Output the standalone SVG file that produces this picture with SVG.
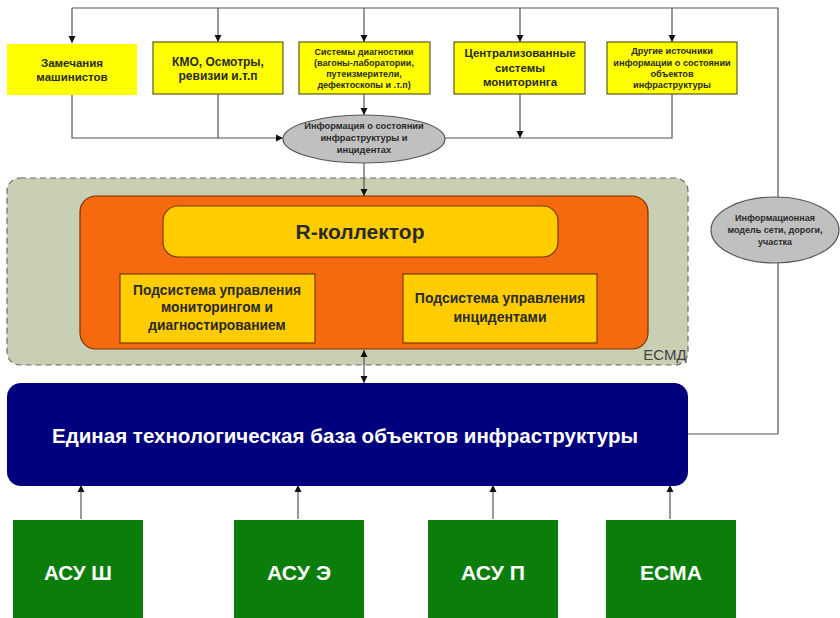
<svg xmlns="http://www.w3.org/2000/svg" width="840" height="618" viewBox="0 0 840 618">
<style>
.t{font-family:"Liberation Sans",Arial,sans-serif;font-weight:bold;text-anchor:middle;fill:#2a2a2a}
.y{fill:#ffff00;stroke:#5a5a2a;stroke-width:1.2}
.ln{fill:none;stroke:#555;stroke-width:1.2}
.sub{fill:#ffcc00;stroke:#7a3a00;stroke-width:1.2}
.g{fill:#0b7d0b}
.w{fill:#fff;font-family:"Liberation Sans",Arial,sans-serif;font-weight:bold;text-anchor:middle}
.el{fill:#c0c0c0;stroke:#555;stroke-width:1.2}
</style>
<defs>
<marker id="ah" viewBox="0 0 10 10" refX="10" refY="5" markerWidth="7" markerHeight="9" markerUnits="userSpaceOnUse" orient="auto-start-reverse">
<path d="M0,0 L10,5 L0,10 z" fill="#111"/>
</marker>
</defs>
<rect width="840" height="618" fill="#fff"/>

<g id="esmd">
<rect x="7" y="178" width="681" height="187" rx="13" fill="#c9cfb2" stroke="#6a6a6a" stroke-width="1.2" stroke-dasharray="6,4"/>
<text x="665" y="360" font-family="Liberation Sans,Arial,sans-serif" font-size="15" fill="#444" text-anchor="middle">ЕСМД</text>
</g>
<g id="core">
<rect x="80" y="196" width="568" height="153" rx="16" fill="#f5690f" stroke="#7a3000" stroke-width="1.2"/>
</g>
<g id="rcollector">
<rect x="163" y="206" width="395" height="51" rx="15" class="sub"/>
<text x="360" y="239" class="t" font-size="21" fill="#222">R-коллектор</text>
</g>
<g id="sub1">
<rect x="120" y="274" width="195" height="69" class="sub"/>
<text class="t" font-size="13.8"><tspan x="217" y="295">Подсистема управления</tspan><tspan x="217" y="312">мониторингом и</tspan><tspan x="217" y="330">диагностированием</tspan></text>
</g>
<g id="sub2">
<rect x="403" y="274" width="194" height="69" class="sub"/>
<text class="t" font-size="14"><tspan x="500" y="303">Подсистема управления</tspan><tspan x="500" y="322">инцидентами</tspan></text>
</g>

<g id="connectors">
<path class="ln" d="M778,434 L778,8 L72,8"/>
<path class="ln" d="M72,8 L72,43" marker-end="url(#ah)"/>
<path class="ln" d="M218,8 L218,42" marker-end="url(#ah)"/>
<path class="ln" d="M364,8 L364,42" marker-end="url(#ah)"/>
<path class="ln" d="M520,8 L520,42" marker-end="url(#ah)"/>
<path class="ln" d="M672,8 L672,42" marker-end="url(#ah)"/>
<path class="ln" d="M72,95 L72,138 L283,138" marker-end="url(#ah)"/>
<path class="ln" d="M218,94 L218,138"/>
<path class="ln" d="M364,94 L364,115" marker-end="url(#ah)"/>
<path class="ln" d="M520,94 L520,138" marker-end="url(#ah)"/>
<path class="ln" d="M672,94 L672,138 L444,138"/>
<path class="ln" d="M364,163 L364,196" marker-end="url(#ah)"/>
<path class="ln" d="M364,350 L364,383" marker-start="url(#ah)" marker-end="url(#ah)"/>
<path class="ln" d="M688,434 L778,434"/>
<path class="ln" d="M81,519 L81,485" marker-end="url(#ah)"/>
<path class="ln" d="M298,519 L298,485" marker-end="url(#ah)"/>
<path class="ln" d="M493,519 L493,485" marker-end="url(#ah)"/>
<path class="ln" d="M670,519 L670,485" marker-end="url(#ah)"/>
</g>

<g id="src1">
<rect x="7" y="44" width="130" height="51" fill="#ffff00"/>
<text class="t" font-size="11.5"><tspan x="72" y="67">Замечания</tspan><tspan x="72" y="81">машинистов</tspan></text>
</g>
<g id="src2">
<rect x="153" y="42" width="130" height="52" class="y"/>
<text class="t" font-size="12"><tspan x="218" y="66">КМО, Осмотры,</tspan><tspan x="218" y="80">ревизии и.т.п</tspan></text>
</g>
<g id="src3">
<rect x="299" y="42" width="131" height="52" class="y"/>
<text class="t" font-size="9"><tspan x="364" y="55">Системы диагностики</tspan><tspan x="364" y="66">(вагоны-лаборатории,</tspan><tspan x="364" y="77">путеизмерители,</tspan><tspan x="364" y="88">дефектоскопы и .т.п)</tspan></text>
</g>
<g id="src4">
<rect x="454" y="42" width="131" height="52" class="y"/>
<text class="t" font-size="11.5"><tspan x="520" y="57">Централизованные</tspan><tspan x="520" y="72">системы</tspan><tspan x="520" y="86">мониторинга</tspan></text>
</g>
<g id="src5">
<rect x="607" y="42" width="130" height="52" class="y"/>
<text class="t" font-size="9.2"><tspan x="672" y="54">Другие источники</tspan><tspan x="672" y="66">информации о состоянии</tspan><tspan x="672" y="77">объектов</tspan><tspan x="672" y="88">инфраструктуры</tspan></text>
</g>
<g id="info">
<ellipse cx="364" cy="139" rx="81" ry="24" class="el"/>
<text class="t" font-size="9.3"><tspan x="364" y="129">Информация о состоянии</tspan><tspan x="364" y="141">инфраструктуры и</tspan><tspan x="364" y="153">инцидентах</tspan></text>
</g>
<g id="model">
<ellipse cx="775" cy="230" rx="64" ry="33" class="el"/>
<text class="t" font-size="9"><tspan x="775" y="221">Информационная</tspan><tspan x="775" y="233">модель сети, дороги,</tspan><tspan x="775" y="245">участка</tspan></text>
</g>
<g id="base">
<rect x="7" y="383" width="681" height="103" rx="14" fill="#00007f"/>
<text x="345" y="443" class="w" font-size="20" textLength="586" lengthAdjust="spacingAndGlyphs">Единая технологическая база объектов инфраструктуры</text>
</g>
<g id="asu1"><rect x="13" y="520" width="130" height="98" class="g"/><text x="78" y="580" class="w" font-size="20" textLength="68" lengthAdjust="spacingAndGlyphs">АСУ Ш</text></g>
<g id="asu2"><rect x="234" y="520" width="130" height="98" class="g"/><text x="299" y="580" class="w" font-size="20" textLength="64" lengthAdjust="spacingAndGlyphs">АСУ Э</text></g>
<g id="asu3"><rect x="428" y="520" width="130" height="98" class="g"/><text x="493" y="580" class="w" font-size="20" textLength="64" lengthAdjust="spacingAndGlyphs">АСУ П</text></g>
<g id="esma"><rect x="606" y="520" width="130" height="98" class="g"/><text x="671" y="580" class="w" font-size="20" textLength="62" lengthAdjust="spacingAndGlyphs">ЕСМА</text></g>
</svg>
